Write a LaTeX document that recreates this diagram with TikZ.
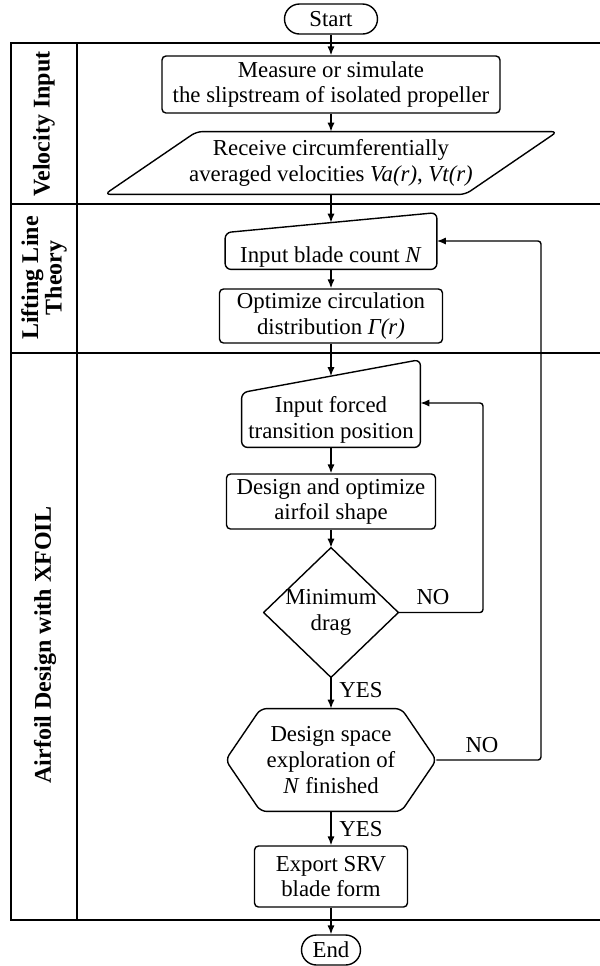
\documentclass[tikz,border=0pt]{standalone}
\usepackage{fontspec}
\setmainfont{Liberation Serif}
\usetikzlibrary{arrows.meta}

\begin{document}
\begin{tikzpicture}[
  x=0.5pt, y=-0.5pt,
  every node/.style={font=\fontsize{11.4}{12.8}\selectfont, align=center, inner sep=0pt},
  term/.style={draw, line width=0.7pt, rounded corners=7.5pt, minimum height=15pt},
  proc/.style={draw, line width=0.7pt, rounded corners=2pt},
  lane/.style={rotate=90, font=\fontsize{12}{11.8}\selectfont\bfseries},
  e/.style={line width=0.7pt},
  arr/.style={e, rounded corners=1.5pt, -{Latex[length=4.5pt,width=3.6pt]}},
  shp/.style={e, rounded corners=3pt}
]
\useasboundingbox (0,0) rectangle (600,966);

% --- swim lanes ---
\draw[e] (600,43) -- (11,43) -- (11,920) -- (600,920);
\draw[e] (77,43) -- (77,920);
\draw[e] (11,204) -- (600,204);
\draw[e] (11,353) -- (600,353);
\node[lane] (vel) at (44,124) {Velocity Input};
\node[lane] (llt) at (44,278) {Lifting Line\\Theory};
\node[lane] (xf)  at (45,645) {Airfoil Design with XFOIL};

% --- steps ---
\node[term, minimum width=46.5pt] (start) at (331,19) {Start};
\node[proc, minimum width=169pt, minimum height=28.5pt] (meas) at (331,84.5)
  {Measure or simulate\\the slipstream of isolated propeller};
\node[minimum width=226pt, minimum height=31pt] (recv) at (331,163)
  {Receive circumferentially\\averaged velocities \textit{Va(r)}, \textit{Vt(r)}};
\node[minimum width=105.5pt, minimum height=12pt] (blade) at (331,257)
  {Input blade count \textit{N}};
\node[proc, minimum width=111.5pt, minimum height=27pt] (opt) at (331,316)
  {Optimize circulation\\distribution \textit{Γ(r)}};
\node[minimum width=89pt, minimum height=27pt] (force) at (331,420)
  {Input forced\\transition position};
\node[proc, minimum width=104.5pt, minimum height=27.5pt] (design) at (331,501.5)
  {Design and optimize\\airfoil shape};
\node[minimum width=67pt, minimum height=64.5pt] (mind) at (331,612.5)
  {Minimum\\drag};
\node[minimum width=105pt, minimum height=51pt] (expl) at (331,760)
  {Design space\\exploration of\\\textit{N} finished};
\node[proc, minimum width=76.5pt, minimum height=30.5pt] (exp) at (331,876.5)
  {Export SRV\\blade form};
\node[term, minimum width=29.5pt] (stop) at (331,950) {End};

% --- outlines of the odd shapes ---
\draw[shp] (recv.south) -- ([shift={(-92,0)}]recv.south east) -- (recv.north east)
  -- ([shift={(92,0)}]recv.north west) -- (recv.south west) -- cycle;
\draw[shp] (blade.south) -- (blade.south east) -- ([shift={(0,-32)}]blade.north east)
  -- ([shift={(0,-12)}]blade.north west) -- (blade.south west) -- cycle;
\coordinate (bladetop) at ([shift={(0,-22)}]blade.north);
\draw[shp] (force.south) -- (force.south east) -- ([shift={(0,-33)}]force.north east)
  -- (force.north west) -- (force.south west) -- cycle;
\coordinate (forcetop) at ([shift={(0,-16.5)}]force.north);
\draw[e, line join=round] (mind.north) -- (mind.east) -- (mind.south) -- (mind.west) -- cycle;
\draw[shp] (expl.north) -- ([shift={(-35,0)}]expl.north east) -- (expl.east)
  -- ([shift={(-35,0)}]expl.south east) -- ([shift={(35,0)}]expl.south west)
  -- (expl.west) -- ([shift={(35,0)}]expl.north west) -- cycle;

% --- main flow ---
\draw[arr] (start) -- (meas);
\draw[arr] (meas) -- (recv);
\draw[arr] (recv) -- (bladetop);
\draw[arr] (blade) -- (opt);
\draw[arr] (opt) -- (forcetop);
\draw[arr] (force) -- (design);
\draw[arr] (design) -- (mind);
\draw[arr] (mind) -- (expl);
\draw[arr] (expl) -- (exp);
\draw[arr] (exp) -- (stop);

% --- loops back ---
\coordinate (loopA) at (483,403);
\coordinate (loopB) at (541,241);
\draw[arr] (mind.east) -| (loopA) -- (loopA -| force.east);
\draw[arr] (expl.east) -| (loopB) -- (loopB -| blade.east);

% --- branch labels ---
\node (yes1) at (361,690) {YES};
\node (no1)  at (433,597) {NO};
\node (no2)  at (482,745) {NO};
\node (yes2) at (361,829) {YES};

\end{tikzpicture}
\end{document}
